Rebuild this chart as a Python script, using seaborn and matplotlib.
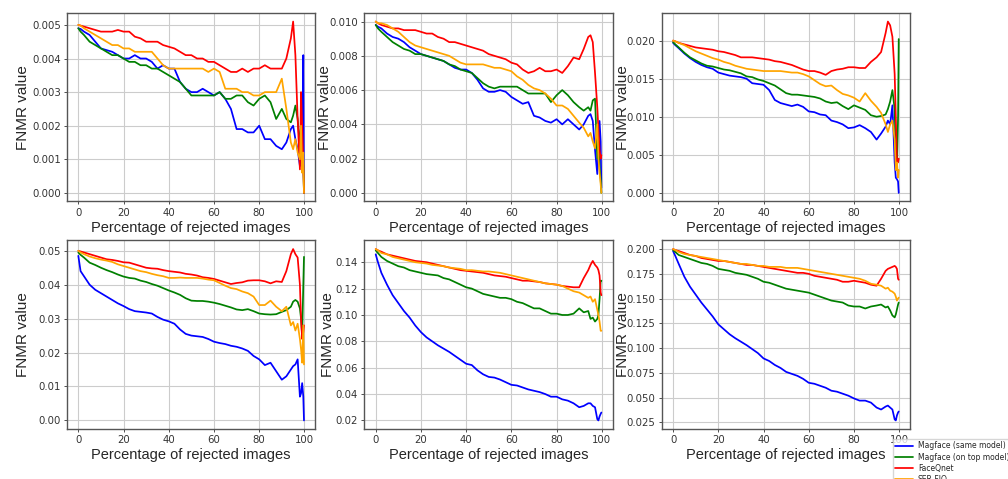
import matplotlib
matplotlib.use("Agg")
import pandas as pd
from matplotlib import pyplot as plt
import seaborn as sns

sns.set_style("ticks", {"axes.grid": True})
plt.rcParams['font.family'] = ['DejaVu Sans']

# percentage of rejected images (shared x for every curve)
x = [0, 1, 2.5, 5, 7.5, 10, 12.5, 15, 17.5, 20, 22.5, 25, 27.5, 30, 32.5, 35, 37.5, 40,
     42.5, 45, 47.5, 50, 52.5, 55, 57.5, 60, 62.5, 65, 67.5, 70, 72.5, 75, 77.5, 80, 82.5,
     85, 87.5, 90, 92, 94, 95, 96, 97, 98, 98.5, 99, 99.5, 99.8]

methods = ['Magface (same model)', 'Magface (on top model)', 'FaceQnet', 'SER-FIQ']
colors = ['blue', 'green', 'red', 'orange']

# panel 1
blue1 = [0.0049, 0.00488, 0.0048, 0.0047, 0.0045, 0.0043, 0.00425, 0.0042, 0.0041, 0.0040,
         0.0040, 0.0041, 0.0040, 0.0040, 0.0039, 0.0037, 0.0038, 0.0037, 0.0037, 0.0033,
         0.0031, 0.0030, 0.0030, 0.0031, 0.0030, 0.0029, 0.0030, 0.0028, 0.0025, 0.0019,
         0.0019, 0.0018, 0.0018, 0.0020, 0.0016, 0.0016, 0.0014, 0.0013,
         0.0015, 0.0019, 0.0020, 0.0016, 0.0013, 0.0008, 0.0014, 0.0010, 0.0041, 0.0]
green1 = [0.0049, 0.0048, 0.0047, 0.0045, 0.0044, 0.0043, 0.0042, 0.0041, 0.0041, 0.0040,
          0.0039, 0.0039, 0.0038, 0.0038, 0.0037, 0.0037, 0.0036, 0.0035, 0.0034, 0.0033,
          0.0031, 0.0029, 0.0029, 0.0029, 0.0029, 0.0029, 0.0030, 0.0028, 0.0028, 0.0029,
          0.0029, 0.0027, 0.0026, 0.0028, 0.0029, 0.0027, 0.0022, 0.0025,
          0.0022, 0.0021, 0.0023, 0.0026, 0.0022, 0.0014, 0.0020, 0.0012, 0.0008, 0.0]
red1 = [0.0050, 0.00498, 0.00495, 0.0049, 0.00485, 0.0048, 0.0048, 0.0048, 0.00485, 0.0048,
        0.0048, 0.00465, 0.0046, 0.0045, 0.0045, 0.0045, 0.0044, 0.00435, 0.0043, 0.0042,
        0.0041, 0.0041, 0.0040, 0.0040, 0.0039, 0.0039, 0.0038, 0.0037, 0.0036, 0.0036,
        0.0037, 0.0036, 0.0037, 0.0037, 0.0038, 0.0037, 0.0037, 0.0037,
        0.0040, 0.0046, 0.0051, 0.0041, 0.0022, 0.0007, 0.0030, 0.0020, 0.0008, 0.0]
orange1 = [0.0050, 0.00498, 0.0049, 0.0048, 0.0047, 0.0046, 0.0045, 0.0044, 0.0044, 0.0043,
           0.0043, 0.0042, 0.0042, 0.0042, 0.0042, 0.0040, 0.0038, 0.0037, 0.0037, 0.0037,
           0.0037, 0.0037, 0.0037, 0.0037, 0.0036, 0.0037, 0.0036, 0.0031, 0.0031, 0.0031,
           0.0030, 0.0030, 0.0029, 0.0029, 0.0030, 0.0030, 0.0030, 0.0034,
           0.0025, 0.0015, 0.0013, 0.0016, 0.0012, 0.0010, 0.0020, 0.0006, 0.0012, 0.0]

# panel 2
blue2 = [0.0098, 0.0097, 0.0096, 0.0093, 0.0091, 0.0090, 0.0088, 0.0085, 0.0083, 0.0081,
         0.0080, 0.0079, 0.0078, 0.0077, 0.0075, 0.0073, 0.0072, 0.0072, 0.0070, 0.0066,
         0.0061, 0.0059, 0.0059, 0.0060, 0.0059, 0.0056, 0.0054, 0.0052, 0.0053, 0.0045,
         0.0044, 0.0042, 0.0041, 0.0043, 0.0040, 0.0043, 0.0040, 0.0037,
         0.0040, 0.0045, 0.0046, 0.0042, 0.0025, 0.0011, 0.0030, 0.0042, 0.0030, 0.0003]
green2 = [0.0098, 0.0096, 0.0094, 0.0091, 0.0088, 0.0086, 0.0084, 0.0083, 0.0081, 0.0081,
          0.0080, 0.0079, 0.0078, 0.0077, 0.0075, 0.0074, 0.0072, 0.0071, 0.0070, 0.0067,
          0.0064, 0.0062, 0.0061, 0.0062, 0.0062, 0.0062, 0.0062, 0.0060, 0.0058, 0.0058,
          0.0058, 0.0058, 0.0053, 0.0057, 0.0060, 0.0057, 0.0053, 0.0050,
          0.0048, 0.0050, 0.0048, 0.0054, 0.0055, 0.0020, 0.0030, 0.0015, 0.0008, 0.0]
red2 = [0.0100, 0.0099, 0.0098, 0.0097, 0.0096, 0.0096, 0.0095, 0.0095, 0.0095, 0.0094,
        0.0093, 0.0093, 0.0091, 0.0090, 0.0088, 0.0088, 0.0087, 0.0086, 0.0085, 0.0084,
        0.0083, 0.0081, 0.0080, 0.0079, 0.0078, 0.0076, 0.0075, 0.0072, 0.0070, 0.0071,
        0.0073, 0.0071, 0.0071, 0.0072, 0.0070, 0.0074, 0.0079, 0.0078,
        0.0084, 0.0091, 0.0092, 0.0088, 0.0070, 0.0050, 0.0037, 0.0025, 0.0020, 0.0022]
orange2 = [0.0100, 0.0099, 0.0099, 0.0098, 0.0096, 0.0094, 0.0091, 0.0088, 0.0086, 0.0085,
           0.0084, 0.0083, 0.0082, 0.0081, 0.0080, 0.0078, 0.0076, 0.0075, 0.0075, 0.0075,
           0.0075, 0.0074, 0.0073, 0.0073, 0.0072, 0.0071, 0.0068, 0.0066, 0.0063, 0.0061,
           0.0060, 0.0058, 0.0055, 0.0051, 0.0051, 0.0049, 0.0045, 0.0041,
           0.0038, 0.0033, 0.0035, 0.0030, 0.0026, 0.0040, 0.0020, 0.0012, 0.0005, 0.0]

# panel 3
blue3 = [0.0197, 0.0194, 0.0190, 0.0183, 0.0177, 0.0172, 0.0168, 0.0165, 0.0163, 0.0158,
         0.0156, 0.0154, 0.0153, 0.0152, 0.0150, 0.0144, 0.0143, 0.0142, 0.0135, 0.0122,
         0.0118, 0.0116, 0.0114, 0.0116, 0.0113, 0.0107, 0.0106, 0.0103, 0.0102, 0.0095,
         0.0093, 0.0090, 0.0085, 0.0086, 0.0089, 0.0085, 0.0080, 0.0070,
         0.0078, 0.0087, 0.0095, 0.0090, 0.0115, 0.0040, 0.0020, 0.0018, 0.0015, 0.0]
green3 = [0.0198, 0.0195, 0.0191, 0.0184, 0.0178, 0.0174, 0.0170, 0.0167, 0.0166, 0.0164,
          0.0162, 0.0161, 0.0159, 0.0157, 0.0153, 0.0152, 0.0149, 0.0147, 0.0144, 0.0141,
          0.0136, 0.0131, 0.0129, 0.0129, 0.0128, 0.0127, 0.0126, 0.0124, 0.0120, 0.0118,
          0.0119, 0.0114, 0.0110, 0.0115, 0.0112, 0.0109, 0.0102, 0.0100,
          0.0101, 0.0103, 0.0110, 0.0120, 0.0135, 0.0110, 0.0050, 0.0030, 0.0100, 0.0202]
red3 = [0.0200, 0.0199, 0.0197, 0.0195, 0.0193, 0.0191, 0.0190, 0.0189, 0.0188, 0.0186,
        0.0185, 0.0183, 0.0181, 0.0178, 0.0178, 0.0178, 0.0177, 0.0176, 0.0175, 0.0173,
        0.0172, 0.0170, 0.0168, 0.0165, 0.0162, 0.0160, 0.0160, 0.0158, 0.0155, 0.0160,
        0.0162, 0.0163, 0.0165, 0.0165, 0.0164, 0.0164, 0.0172, 0.0178,
        0.0185, 0.0210, 0.0225, 0.0220, 0.0205, 0.0156, 0.0100, 0.0041, 0.0040, 0.0045]
orange3 = [0.0200, 0.0199, 0.0197, 0.0194, 0.0190, 0.0186, 0.0183, 0.0180, 0.0177, 0.0175,
           0.0172, 0.0170, 0.0167, 0.0165, 0.0163, 0.0162, 0.0161, 0.0160, 0.0160, 0.0160,
           0.0160, 0.0159, 0.0158, 0.0158, 0.0156, 0.0153, 0.0148, 0.0143, 0.0140, 0.0141,
           0.0135, 0.0130, 0.0128, 0.0125, 0.0120, 0.0131, 0.0121, 0.0113,
           0.0105, 0.0090, 0.0080, 0.0090, 0.0095, 0.0070, 0.0030, 0.0040, 0.0020, 0.0030]

# panel 4
blue4 = [0.0485, 0.0440, 0.0425, 0.0400, 0.0385, 0.0375, 0.0365, 0.0355, 0.0345, 0.0337,
         0.0328, 0.0322, 0.0320, 0.0318, 0.0315, 0.0305, 0.0297, 0.0292, 0.0285, 0.0268,
         0.0255, 0.0250, 0.0248, 0.0246, 0.0240, 0.0232, 0.0228, 0.0225, 0.0220, 0.0217,
         0.0212, 0.0205, 0.0190, 0.0180, 0.0163, 0.0170, 0.0145, 0.0120,
         0.0130, 0.0150, 0.0160, 0.0165, 0.0180, 0.0070, 0.0080, 0.0110, 0.0070, 0.0]
green4 = [0.0495, 0.0488, 0.0480, 0.0465, 0.0458, 0.0450, 0.0443, 0.0437, 0.0430, 0.0424,
          0.0420, 0.0418, 0.0412, 0.0408, 0.0402, 0.0397, 0.0390, 0.0383, 0.0377, 0.0370,
          0.0360, 0.0353, 0.0352, 0.0352, 0.0350, 0.0347, 0.0343, 0.0338, 0.0333, 0.0327,
          0.0325, 0.0328, 0.0322, 0.0315, 0.0313, 0.0312, 0.0313, 0.0320,
          0.0325, 0.0335, 0.0350, 0.0355, 0.0350, 0.0330, 0.0300, 0.0250, 0.0400, 0.0482]
red4 = [0.0500, 0.0498, 0.0495, 0.0490, 0.0485, 0.0480, 0.0475, 0.0473, 0.0470, 0.0466,
        0.0465, 0.0460, 0.0455, 0.0450, 0.0448, 0.0447, 0.0443, 0.0440, 0.0438, 0.0436,
        0.0432, 0.0430, 0.0427, 0.0422, 0.0420, 0.0417, 0.0412, 0.0407, 0.0402, 0.0405,
        0.0407, 0.0412, 0.0413, 0.0413, 0.0410, 0.0404, 0.0410, 0.0408,
        0.0440, 0.0490, 0.0505, 0.0490, 0.0480, 0.0400, 0.0300, 0.0240, 0.0260, 0.0280]
orange4 = [0.0500, 0.0495, 0.0490, 0.0483, 0.0478, 0.0474, 0.0471, 0.0467, 0.0460, 0.0455,
           0.0450, 0.0445, 0.0440, 0.0437, 0.0432, 0.0428, 0.0425, 0.0420, 0.0420, 0.0421,
           0.0420, 0.0420, 0.0420, 0.0418, 0.0415, 0.0413, 0.0405, 0.0397, 0.0390, 0.0387,
           0.0380, 0.0375, 0.0365, 0.0340, 0.0340, 0.0353, 0.0335, 0.0322,
           0.0335, 0.0280, 0.0290, 0.0265, 0.0285, 0.0240, 0.0210, 0.0170, 0.0280, 0.0165]

# panel 5
blue5 = [0.146, 0.140, 0.132, 0.123, 0.115, 0.109, 0.103, 0.098, 0.092, 0.087,
         0.083, 0.080, 0.077, 0.0745, 0.072, 0.069, 0.066, 0.063, 0.062, 0.058,
         0.055, 0.053, 0.0525, 0.051, 0.049, 0.047, 0.0465, 0.045, 0.0435, 0.0425,
         0.0415, 0.040, 0.038, 0.038, 0.036, 0.035, 0.033, 0.030,
         0.031, 0.033, 0.033, 0.031, 0.030, 0.021, 0.020, 0.023, 0.025, 0.026]
green5 = [0.149, 0.147, 0.144, 0.141, 0.139, 0.137, 0.136, 0.134, 0.133, 0.132,
          0.131, 0.1305, 0.130, 0.128, 0.127, 0.125, 0.123, 0.121, 0.120, 0.118,
          0.116, 0.115, 0.114, 0.113, 0.113, 0.112, 0.110, 0.109, 0.107, 0.105,
          0.105, 0.103, 0.101, 0.101, 0.100, 0.100, 0.101, 0.105,
          0.102, 0.103, 0.097, 0.098, 0.095, 0.097, 0.100, 0.112, 0.126, 0.126]
red5 = [0.150, 0.149, 0.148, 0.146, 0.145, 0.144, 0.143, 0.142, 0.141, 0.1405,
        0.140, 0.139, 0.138, 0.137, 0.136, 0.135, 0.134, 0.1335, 0.133, 0.1325,
        0.132, 0.131, 0.130, 0.1295, 0.129, 0.128, 0.127, 0.126, 0.126, 0.1255,
        0.125, 0.124, 0.1235, 0.123, 0.122, 0.1215, 0.121, 0.121,
        0.128, 0.134, 0.138, 0.141, 0.138, 0.136, 0.134, 0.130, 0.117, 0.115]
orange5 = [0.150, 0.149, 0.147, 0.146, 0.144, 0.143, 0.142, 0.141, 0.140, 0.1395,
           0.139, 0.138, 0.1375, 0.137, 0.136, 0.1355, 0.135, 0.134, 0.134, 0.1335,
           0.133, 0.133, 0.1325, 0.132, 0.131, 0.130, 0.129, 0.128, 0.127, 0.126,
           0.125, 0.124, 0.1235, 0.123, 0.122, 0.120, 0.118, 0.117,
           0.115, 0.113, 0.114, 0.110, 0.112, 0.104, 0.100, 0.095, 0.088, 0.088]

# panel 6
blue6 = [0.198, 0.193, 0.185, 0.172, 0.162, 0.154, 0.146, 0.139, 0.132, 0.124,
         0.119, 0.114, 0.110, 0.1065, 0.103, 0.099, 0.095, 0.0896, 0.087, 0.083,
         0.080, 0.076, 0.074, 0.072, 0.069, 0.065, 0.064, 0.062, 0.060, 0.057,
         0.056, 0.054, 0.052, 0.0492, 0.047, 0.047, 0.045, 0.040,
         0.038, 0.041, 0.042, 0.040, 0.038, 0.028, 0.027, 0.032, 0.035, 0.036]
green6 = [0.199, 0.197, 0.194, 0.192, 0.190, 0.188, 0.186, 0.185, 0.183, 0.180,
          0.179, 0.178, 0.176, 0.175, 0.174, 0.172, 0.170, 0.167, 0.166, 0.164,
          0.162, 0.160, 0.159, 0.158, 0.157, 0.156, 0.154, 0.152, 0.150, 0.148,
          0.147, 0.146, 0.143, 0.142, 0.142, 0.140, 0.142, 0.143,
          0.144, 0.141, 0.142, 0.138, 0.133, 0.131, 0.134, 0.139, 0.144, 0.146]
red6 = [0.200, 0.199, 0.198, 0.196, 0.194, 0.193, 0.191, 0.190, 0.189, 0.188,
        0.188, 0.187, 0.186, 0.185, 0.184, 0.184, 0.183, 0.182, 0.181, 0.180,
        0.179, 0.178, 0.177, 0.176, 0.176, 0.175, 0.173, 0.172, 0.171, 0.170,
        0.169, 0.167, 0.167, 0.168, 0.167, 0.166, 0.164, 0.163,
        0.170, 0.178, 0.180, 0.181, 0.182, 0.183, 0.182, 0.180, 0.170, 0.169]
orange6 = [0.200, 0.199, 0.197, 0.195, 0.194, 0.193, 0.192, 0.191, 0.190, 0.189,
           0.188, 0.187, 0.186, 0.185, 0.185, 0.184, 0.183, 0.183, 0.182, 0.182,
           0.182, 0.181, 0.181, 0.181, 0.180, 0.179, 0.178, 0.177, 0.176, 0.175,
           0.174, 0.173, 0.172, 0.171, 0.170, 0.168, 0.165, 0.164,
           0.163, 0.160, 0.161, 0.158, 0.157, 0.155, 0.152, 0.148, 0.150, 0.151]

panels = [
    [blue1, green1, red1, orange1],
    [blue2, green2, red2, orange2],
    [blue3, green3, red3, orange3],
    [blue4, green4, red4, orange4],
    [blue5, green5, red5, orange5],
    [blue6, green6, red6, orange6],
]
# distance of the y label from the axis, as a fraction of axis width
ylabel_off = [0.149, 0.129, 0.129, 0.149, 0.119, 0.129]

fig, axes = plt.subplots(2, 3, figsize=(10.08, 4.79), dpi=100)
fig.subplots_adjust(left=0.0665, right=0.9028, bottom=0.1044, top=0.9729,
                    wspace=0.198, hspace=0.207)

for i, ax in enumerate(axes.flat):
    rows = []
    for name, ys in zip(methods, panels[i]):
        rows.append(pd.DataFrame({'pct': x, 'fnmr': ys, 'method': name}))
    df = pd.concat(rows, ignore_index=True)
    sns.lineplot(data=df, x='pct', y='fnmr', hue='method', palette=colors,
                 hue_order=methods, linewidth=1.25, ax=ax, legend=False,
                 estimator=None, sort=False)
    ax.set_xticks([0, 20, 40, 60, 80, 100])
    ax.grid(True, color='#cccccc', linewidth=0.8)
    ax.tick_params(labelsize=7.3, length=2.5, width=0.6, pad=2, colors='#333333')
    for s in ax.spines.values():
        s.set_color('#555555')
        s.set_linewidth(1.0)
    ax.set_xlabel('Percentage of rejected images', fontsize=10.5,
                  family='Liberation Sans', labelpad=2)
    ax.set_ylabel('FNMR value', fontsize=11, family='Liberation Sans')
    ax.yaxis.set_label_coords(-ylabel_off[i], 0.5)

# legend sits in the lower right corner and runs past the figure edge, as in the source
handles = axes.flat[0].get_lines()[:4]
fig.legend(handles, methods, loc='upper left', bbox_to_anchor=(0.8856, 0.0835),
           borderaxespad=0, fontsize=5.5, frameon=True, edgecolor='#cccccc',
           fancybox=False, handlelength=2.4, handletextpad=0.6, borderpad=0.3,
           labelspacing=0.3)

plt.savefig("out.png", dpi=100)
